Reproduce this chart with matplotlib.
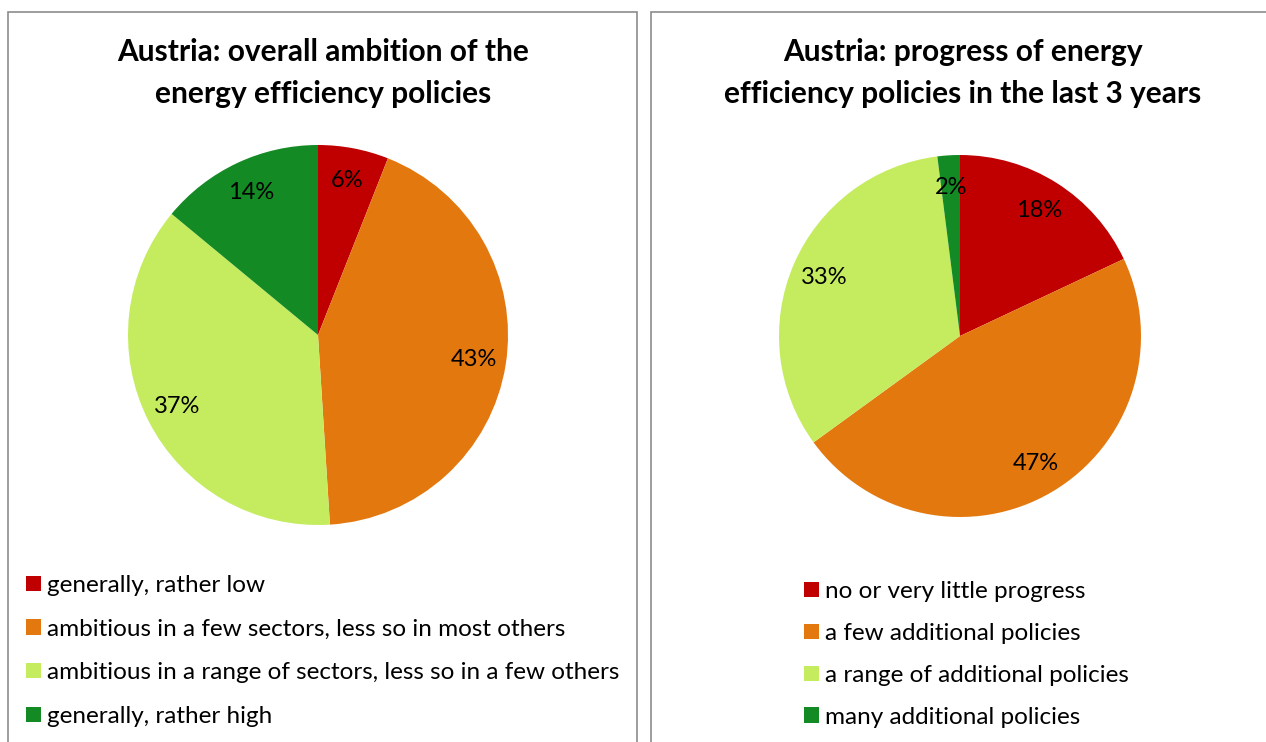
import matplotlib
matplotlib.use("Agg")
import matplotlib.pyplot as plt
from matplotlib.patches import Rectangle

plt.rcParams['font.family'] = ['Lato', 'DejaVu Sans']

# colours shared by both pies
COLORS = ['#C00000', '#E3780F', '#C5EC5F', '#138A24']

# left chart: overall ambition
AMBITION_TITLE = 'Austria: overall ambition of the\nenergy efficiency policies'
AMBITION_LABELS = ['generally, rather low',
                   'ambitious in a few sectors, less so in most others',
                   'ambitious in a range of sectors, less so in a few others',
                   'generally, rather high']
AMBITION_PCT = [6, 43, 37, 14]

# right chart: progress in the last 3 years
PROGRESS_TITLE = 'Austria: progress of energy\nefficiency policies in the last 3 years'
PROGRESS_LABELS = ['no or very little progress',
                   'a few additional policies',
                   'a range of additional policies',
                   'many additional policies']
PROGRESS_PCT = [18, 47, 33, 2]

W, H = 1266, 742
fig = plt.figure(figsize=(W / 100, H / 100), dpi=100)


def px_axes(cx, cy, r):
    """Axes whose unit circle sits at pixel centre (cx, cy) with radius r."""
    return fig.add_axes([(cx - r) / W, 1 - (cy + r) / H, 2 * r / W, 2 * r / H])


def draw_pie(ax, values, pctdist):
    wedges, texts, autotexts = ax.pie(
        values, colors=COLORS, startangle=90, counterclock=False,
        autopct='%d%%', pctdistance=pctdist, radius=1.0,
        textprops={'fontsize': 17, 'color': 'black'})
    ax.set_xlim(-1, 1)
    ax.set_ylim(-1, 1)
    ax.set_aspect('equal')
    ax.axis('off')
    return wedges


# panel borders
for x0, x1 in [(8, 637), (651, 1280)]:
    fig.patches.append(Rectangle((x0 / W, -0.1), (x1 - x0) / W, 1.1 - 12 / H,
                                 transform=fig.transFigure, fill=False,
                                 edgecolor='#8c8c8c', linewidth=1.2))

ax1 = px_axes(318, 335, 190)
w1 = draw_pie(ax1, AMBITION_PCT, 0.83)
ax2 = px_axes(960, 336, 181)
w2 = draw_pie(ax2, PROGRESS_PCT, 0.82)

fig.text(323 / W, 1 - 73 / H, AMBITION_TITLE, ha='center', va='center',
         fontsize=21.5, fontweight='bold', linespacing=1.58)
fig.text(963 / W, 1 - 73 / H, PROGRESS_TITLE, ha='center', va='center',
         fontsize=21.5, fontweight='bold', linespacing=1.58)

leg_kw = dict(frameon=False, fontsize=17.5, handlelength=0.6, handleheight=0.6,
              handletextpad=0.25, borderpad=0, borderaxespad=0)
fig.legend(w1, AMBITION_LABELS, loc='upper left', labelspacing=0.93,
           bbox_to_anchor=(26 / W, 1 - 575 / H), **leg_kw)
fig.legend(w2, PROGRESS_LABELS, loc='upper left', labelspacing=0.86,
           bbox_to_anchor=(804 / W, 1 - 581 / H), **leg_kw)

fig.savefig('out.png', dpi=100)
